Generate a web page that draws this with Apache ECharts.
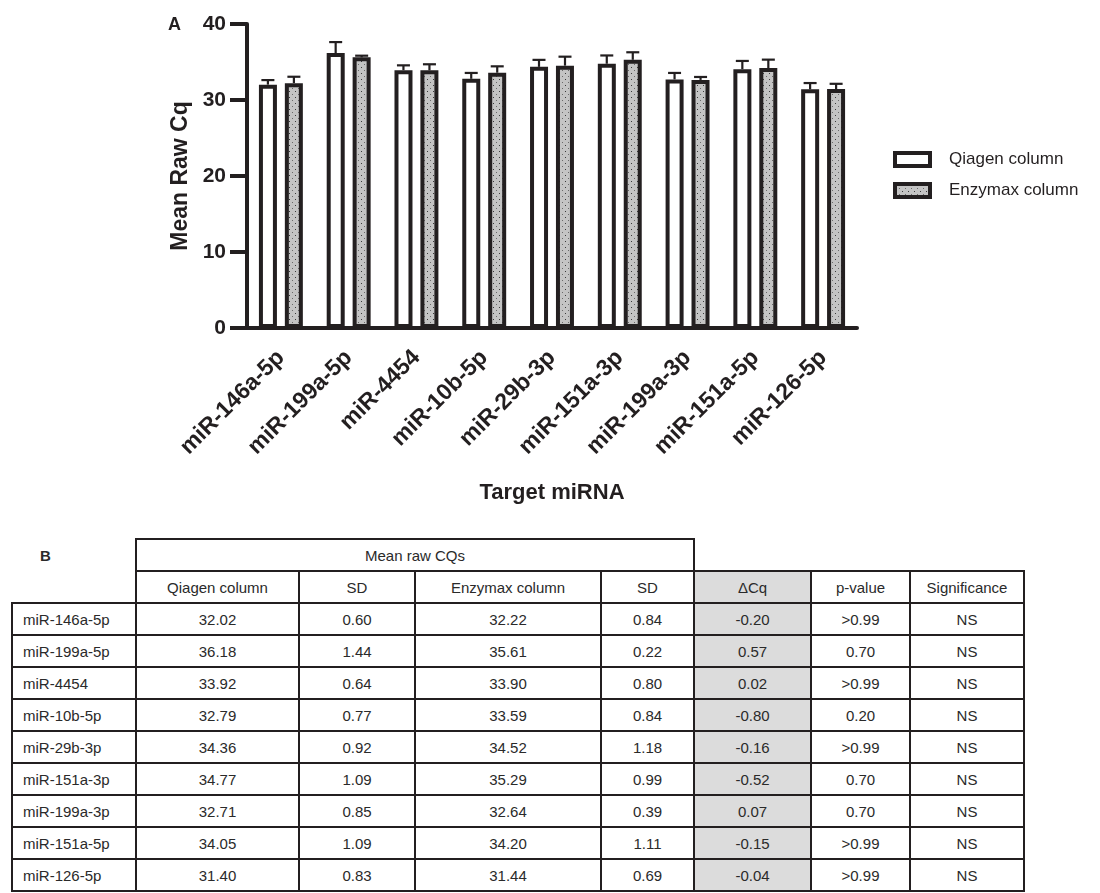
<!DOCTYPE html>
<html>
<head>
<meta charset="utf-8">
<script src="https://cdn.jsdelivr.net/npm/echarts@6/dist/echarts.min.js"></script>
<style>
  body { margin: 0; background: #fff; font-family: "Liberation Sans", Arial, sans-serif; }
  #chart { position: absolute; left: 0; top: 0; width: 1100px; height: 530px; }
  #tbl { position: absolute; left: 11px; top: 538px; border-collapse: collapse; color: #2a2a2a; font-size: 15px; }
  #tbl td { border: 2px solid #231f20; height: 30px; padding: 0; text-align: center; }
  #tbl td.first { text-align: left; padding-left: 10px; }
  #tbl td.shade { background: #dcdcdc; }
  #tbl td.none { border: none; }
  #tbl td.lab { font-weight: bold; text-align: left; padding-left: 28px; }
</style>
</head>
<body>
<div id="chart"></div>
<table id="tbl"></table>
<script>
// 数据
const categories = ['miR-146a-5p', 'miR-199a-5p', 'miR-4454', 'miR-10b-5p', 'miR-29b-3p',
  'miR-151a-3p', 'miR-199a-3p', 'miR-151a-5p', 'miR-126-5p'];
const qiagenMean = [32.02, 36.18, 33.92, 32.79, 34.36, 34.77, 32.71, 34.05, 31.40];
const qiagenSD = [0.60, 1.44, 0.64, 0.77, 0.92, 1.09, 0.85, 1.09, 0.83];
const enzymaxMean = [32.22, 35.61, 33.90, 33.59, 34.52, 35.29, 32.64, 34.20, 31.44];
const enzymaxSD = [0.84, 0.22, 0.80, 0.84, 1.18, 0.99, 0.39, 1.11, 0.69];
const deltaCq = ['-0.20', '0.57', '0.02', '-0.80', '-0.16', '-0.52', '0.07', '-0.15', '-0.04'];
const pValue = ['>0.99', '0.70', '>0.99', '0.20', '>0.99', '0.70', '0.70', '>0.99', '>0.99'];
const significance = ['NS', 'NS', 'NS', 'NS', 'NS', 'NS', 'NS', 'NS', 'NS'];
const tableHeaders = ['Qiagen column', 'SD', 'Enzymax column', 'SD', 'ΔCq', 'p-value', 'Significance'];
const colWidths = [124, 163, 116, 186, 93, 117, 99, 114];

const dark = '#231f20';

// 点状填充
const pat = document.createElement('canvas');
pat.width = 6; pat.height = 6;
const pc = pat.getContext('2d');
pc.fillStyle = '#c4c4c4';
pc.fillRect(0, 0, 6, 6);
pc.fillStyle = '#3a3a3a';
pc.fillRect(1, 1, 1, 1);
pc.fillStyle = '#6a6a6a';
pc.fillRect(4, 4, 1, 1);
const dotFill = { image: pat, repeat: 'repeat' };

const barOffset = 13;
const errorSeries = (means, sds, dir, name) => ({
  type: 'custom',
  name: name + ' SD',
  z: 1,
  data: means.map((m, i) => [i, m, sds[i]]),
  renderItem: (params, api) => {
    const i = api.value(0);
    const base = api.coord([i, api.value(1)]);
    const top = api.coord([i, api.value(1) + api.value(2)]);
    const x = base[0] + dir * barOffset;
    return {
      type: 'group',
      children: [
        { type: 'line', shape: { x1: x, y1: base[1], x2: x, y2: top[1] },
          style: { stroke: dark, lineWidth: 2.2 } },
        { type: 'line', shape: { x1: x - 6.5, y1: top[1], x2: x + 6.5, y2: top[1] },
          style: { stroke: dark, lineWidth: 2.2 } }
      ]
    };
  }
});

const chart = echarts.init(document.getElementById('chart'));
chart.setOption({
  animation: false,
  title: {
    text: 'A', left: 163, top: 11,
    textStyle: { fontFamily: 'Liberation Sans', fontWeight: 'bold', fontSize: 18, color: dark }
  },
  legend: {
    orient: 'vertical', left: 893, top: 151, padding: 0,
    itemWidth: 35, itemHeight: 13, itemGap: 14,
    textStyle: { fontFamily: 'Liberation Sans', fontSize: 17, color: dark, padding: [0, 0, 0, 14] },
    data: [
      { name: 'Qiagen column', icon: 'rect', itemStyle: { color: '#fff', borderColor: dark, borderWidth: 4 } },
      { name: 'Enzymax column', icon: 'rect', itemStyle: { color: dotFill, borderColor: dark, borderWidth: 4 } }
    ]
  },
  grid: { left: 247, top: 24, width: 610, height: 304, outerBoundsMode: 'none' },
  xAxis: {
    type: 'category',
    data: categories,
    name: 'Target miRNA',
    nameLocation: 'middle',
    nameGap: 154,
    nameTextStyle: { fontFamily: 'Liberation Sans', fontWeight: 'bold', fontSize: 22, color: dark },
    axisLine: { lineStyle: { color: dark, width: 4 } },
    axisTick: { alignWithLabel: true, length: 15, lineStyle: { color: dark, width: 3.5 } },
    axisLabel: { rotate: 45, margin: 26, fontFamily: 'Liberation Sans', fontWeight: 'bold', fontSize: 23, color: dark, interval: 0 }
  },
  yAxis: {
    type: 'value', min: 0, max: 40, interval: 10,
    name: 'Mean Raw Cq',
    nameLocation: 'middle',
    nameGap: 55,
    nameTextStyle: { fontFamily: 'Liberation Sans', fontWeight: 'bold', fontSize: 23, color: dark },
    splitLine: { show: false },
    axisLine: { show: true, lineStyle: { color: dark, width: 4 } },
    axisTick: { show: true, length: 17, lineStyle: { color: dark, width: 4 } },
    axisLabel: { margin: 21, fontFamily: 'Liberation Sans', fontWeight: 'bold', fontSize: 21, color: dark }
  },
  series: [
    errorSeries(qiagenMean, qiagenSD, -1, 'Qiagen column'),
    errorSeries(enzymaxMean, enzymaxSD, 1, 'Enzymax column'),
    {
      type: 'bar', name: 'Qiagen column', data: qiagenMean,
      barWidth: 18, barGap: '44%', z: 2,
      itemStyle: { color: '#fff', borderColor: dark, borderWidth: 4 }
    },
    {
      type: 'bar', name: 'Enzymax column', data: enzymaxMean,
      barWidth: 18, barGap: '44%', z: 2,
      itemStyle: { color: dotFill, borderColor: dark, borderWidth: 4 }
    }
  ]
});

// 表格
const tbl = document.getElementById('tbl');
const cg = document.createElement('colgroup');
colWidths.forEach(w => { const c = document.createElement('col'); c.style.width = w + 'px'; cg.appendChild(c); });
tbl.appendChild(cg);
const r1 = tbl.insertRow();
let c = r1.insertCell(); c.textContent = 'B'; c.className = 'none lab';
c = r1.insertCell(); c.textContent = 'Mean raw CQs'; c.colSpan = 4;
for (let k = 0; k < 3; k++) { c = r1.insertCell(); c.className = 'none'; }
const r2 = tbl.insertRow();
c = r2.insertCell(); c.className = 'none';
tableHeaders.forEach((h, k) => {
  c = r2.insertCell(); c.textContent = h;
  if (k === 4) c.className = 'shade';
});
categories.forEach((cat, i) => {
  const r = tbl.insertRow();
  const vals = [cat, qiagenMean[i].toFixed(2), qiagenSD[i].toFixed(2), enzymaxMean[i].toFixed(2),
    enzymaxSD[i].toFixed(2), deltaCq[i], pValue[i], significance[i]];
  vals.forEach((v, k) => {
    const cell = r.insertCell(); cell.textContent = v;
    if (k === 0) cell.className = 'first';
    if (k === 5) cell.className = 'shade';
  });
});
</script>
</body>
</html>
